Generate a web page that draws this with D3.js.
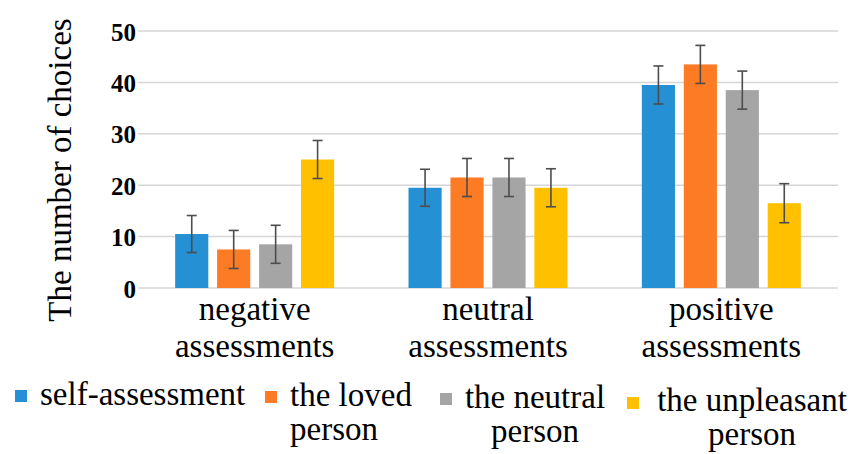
<!DOCTYPE html>
<html>
<head>
  <title>Number of choices by assessment</title>
  <style>
    body { margin: 0; background: #fff; }
    svg text { font-family: "Liberation Serif", "Times New Roman", Tinos, "DejaVu Serif", serif; fill: #000; }
    .grid line { stroke: #d6d6d6; stroke-width: 1.5px; }
    .err { stroke: #4d4d4d; stroke-width: 1.6px; fill: none; }
  </style>
</head>
<body>
  <svg id="chart" width="851" height="454"></svg>

  <script src="https://d3js.org/d3.v7.min.js"></script>
  <script>
    // values
    const categories = ["negative assessments", "neutral assessments", "positive assessments"];
    const categoryLines = [["negative", "assessments"], ["neutral", "assessments"], ["positive", "assessments"]];
    const seriesNames = ["self-assessment", "the loved person", "the neutral person", "the unpleasant person"];
    const selfValues = [10.5, 19.5, 39.5];
    const lovedValues = [7.5, 21.5, 43.5];
    const neutralValues = [8.5, 21.5, 38.5];
    const unpleasantValues = [25, 19.5, 16.5];
    const selfErr = [3.6, 3.6, 3.7];
    const lovedErr = [3.7, 3.7, 3.7];
    const neutralErr = [3.7, 3.7, 3.7];
    const unpleasantErr = [3.7, 3.7, 3.8];
    const yTicks = [0, 10, 20, 30, 40, 50];
    const colors = ["#2590d3", "#fd7b24", "#a5a5a5", "#ffc000"];

    const seriesValues = [selfValues, lovedValues, neutralValues, unpleasantValues];
    const seriesErr = [selfErr, lovedErr, neutralErr, unpleasantErr];

    const FONT = '"Liberation Serif", "Times New Roman", Tinos, "DejaVu Serif", serif';
    const svg = d3.select('#chart');

    const y = d3.scaleLinear().domain([0, 50]).range([288, 31]);
    const x0 = d3.scaleBand().domain(categories).range([138, 838]);
    const groupW = 159;
    const x1 = d3.scaleBand().domain(seriesNames)
      .range([(x0.bandwidth() - groupW) / 2, (x0.bandwidth() + groupW) / 2])
      .paddingInner(0.21);

    // gridlines
    svg.append('g').attr('class', 'grid')
      .selectAll('line').data(yTicks).enter().append('line')
      .attr('x1', 138).attr('x2', 838)
      .attr('y1', d => y(d)).attr('y2', d => y(d));

    // y tick labels
    const yAxis = svg.append('g')
      .attr('transform', 'translate(138,0)')
      .call(d3.axisLeft(y).tickValues(yTicks).tickSize(0).tickPadding(2));
    yAxis.select('.domain').remove();
    yAxis.attr('font-family', null).attr('font-size', null);
    yAxis.selectAll('text')
      .attr('font-family', FONT)
      .style('font-family', FONT)
      .style('font-size', '25px')
      .style('font-weight', 'bold')
      .attr('fill', '#000')
      .attr('dy', '0.36em');

    // y title
    svg.append('text')
      .attr('transform', 'translate(71,170) rotate(-90)')
      .attr('text-anchor', 'middle')
      .style('font-family', FONT)
      .style('font-size', '33px')
      .text('The number of choices');

    // bars
    const bars = [];
    seriesNames.forEach((s, si) => {
      categories.forEach((c, ci) => {
        bars.push({ s, c, si, v: seriesValues[si][ci], e: seriesErr[si][ci] });
      });
    });

    svg.append('g').selectAll('rect').data(bars).enter().append('rect')
      .attr('x', d => x0(d.c) + x1(d.s))
      .attr('y', d => y(d.v))
      .attr('width', x1.bandwidth())
      .attr('height', d => y(0) - y(d.v))
      .attr('fill', d => colors[d.si]);

    // error bars
    const capW = 10;
    const eg = svg.append('g').attr('class', 'err');
    bars.forEach(d => {
      const cx = x0(d.c) + x1(d.s) + x1.bandwidth() / 2;
      const yt = y(d.v + d.e), yb = y(d.v - d.e);
      eg.append('line').attr('x1', cx).attr('x2', cx).attr('y1', yt).attr('y2', yb);
      eg.append('line').attr('x1', cx - capW / 2).attr('x2', cx + capW / 2).attr('y1', yt).attr('y2', yt);
      eg.append('line').attr('x1', cx - capW / 2).attr('x2', cx + capW / 2).attr('y1', yb).attr('y2', yb);
    });

    // category labels
    categories.forEach((c, ci) => {
      const t = svg.append('text')
        .attr('text-anchor', 'middle')
        .style('font-family', FONT)
        .style('font-size', '33px');
      categoryLines[ci].forEach((line, li) => {
        t.append('tspan')
          .attr('x', x0(c) + x0.bandwidth() / 2)
          .attr('y', 320 + li * 37)
          .text(line);
      });
    });

    // legend
    const legendPos = [
      { sx: 15, sy: 390, tx: 40, ty: 405, anchor: 'start', lines: ['self-assessment'] },
      { sx: 265, sy: 391, tx: 290, ty: 406, anchor: 'start', lines: ['the loved', 'person'] },
      { sx: 440, sy: 393, tx: 535, ty: 408, anchor: 'middle', lines: ['the neutral', 'person'] },
      { sx: 627, sy: 397, tx: 752, ty: 411, anchor: 'middle', lines: ['the unpleasant', 'person'] }
    ];
    seriesNames.forEach((s, si) => {
      const p = legendPos[si];
      svg.append('rect')
        .attr('x', p.sx).attr('y', p.sy)
        .attr('width', 12).attr('height', 12)
        .attr('fill', colors[si]);
      const t = svg.append('text')
        .attr('text-anchor', p.anchor)
        .style('font-family', FONT)
        .style('font-size', '33px');
      p.lines.forEach((line, li) => {
        t.append('tspan')
          .attr('x', p.tx)
          .attr('y', p.ty + li * 34)
          .text(line);
      });
    });
  </script>
</body>
</html>
